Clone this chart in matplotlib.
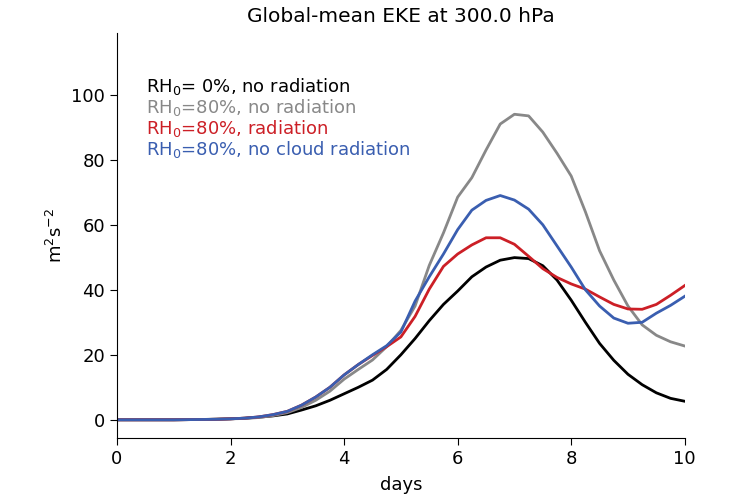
import numpy as np
import matplotlib
matplotlib.use('Agg')
import matplotlib.pyplot as plt

# time axis, output every 6 hours
days = np.arange(0, 10.01, 0.25)

# EKE (m2 s-2)
eke_dry = [0, 0, 0, 0, 0, 0.05, 0.1, 0.2, 0.3, 0.5, 0.8, 1.2, 1.8, 3.0, 4.3, 6.0,
           8.0, 10.0, 12.2, 15.5, 20.0, 25.0, 30.5, 35.5, 39.6, 44.0, 47.0, 49.1, 49.9, 49.6,
           47.4, 43.0, 36.8, 30.0, 23.5, 18.3, 14.0, 10.8, 8.3, 6.6, 5.7]
eke_moist = [0, 0, 0, 0, 0, 0.05, 0.1, 0.15, 0.3, 0.4, 0.7, 1.3, 2.2, 3.8, 6.0, 8.8,
             12.5, 15.5, 18.4, 22.5, 27.5, 35.0, 47.5, 57.5, 68.5, 74.5, 83.0, 91.0, 94.0, 93.5,
             88.5, 82.0, 75.0, 64.0, 52.0, 43.0, 35.0, 29.2, 26.0, 24.0, 22.7]
eke_rad = [0, 0, 0, 0, 0, 0.05, 0.1, 0.15, 0.3, 0.5, 0.9, 1.6, 2.6, 4.5, 7.0, 10.0,
           13.8, 17.0, 19.8, 22.5, 25.5, 31.8, 40.2, 47.2, 51.0, 53.8, 56.0, 56.0, 54.0, 50.3,
           46.5, 43.8, 41.8, 40.2, 37.8, 35.5, 34.1, 34.0, 35.5, 38.3, 41.3]
eke_nocloud = [0, 0, 0, 0, 0, 0.05, 0.1, 0.15, 0.3, 0.5, 0.9, 1.6, 2.6, 4.5, 7.0, 10.0,
               13.8, 17.0, 20.0, 22.8, 27.0, 36.5, 44.0, 51.0, 58.5, 64.5, 67.5, 69.0, 67.6, 64.8,
               60.0, 53.5, 47.0, 40.0, 35.0, 31.3, 29.7, 30.0, 32.8, 35.2, 38.0]

labels = [r'RH$_0$= 0%, no radiation',
          r'RH$_0$=80%, no radiation',
          r'RH$_0$=80%, radiation',
          r'RH$_0$=80%, no cloud radiation']
colors = ['black', '#888888', '#cc1f26', '#3a5eb0']

fig = plt.figure(figsize=(7.5, 5), dpi=100)
ax = fig.add_axes([0.156, 0.124, 0.757, 0.81])

for y, c, lab in zip([eke_dry, eke_moist, eke_rad, eke_nocloud], colors, labels):
    ax.plot(days, y, color=c, lw=2, label=lab)

ax.set_xlim(0, 10)
ax.set_ylim(-5.6, 119)
ax.set_yticks([0, 20, 40, 60, 80, 100])
ax.set_xticks([0, 2, 4, 6, 8, 10])
ax.spines['top'].set_visible(False)
ax.spines['right'].set_visible(False)
ax.tick_params(labelsize=13, length=5)
ax.set_xlabel('days', fontsize=13, labelpad=6)
ax.set_ylabel(r'm$^2$s$^{-2}$', fontsize=13, labelpad=4)
ax.set_title('Global-mean EKE at 300.0 hPa', fontsize=14.5, pad=8)

leg = ax.legend(loc='upper left', bbox_to_anchor=(0.022, 0.935), frameon=False,
                handlelength=0, handletextpad=0, fontsize=13, labelspacing=0.0,
                labelcolor=colors)
for h in leg.legend_handles:
    h.set_visible(False)

plt.savefig('out.png')
